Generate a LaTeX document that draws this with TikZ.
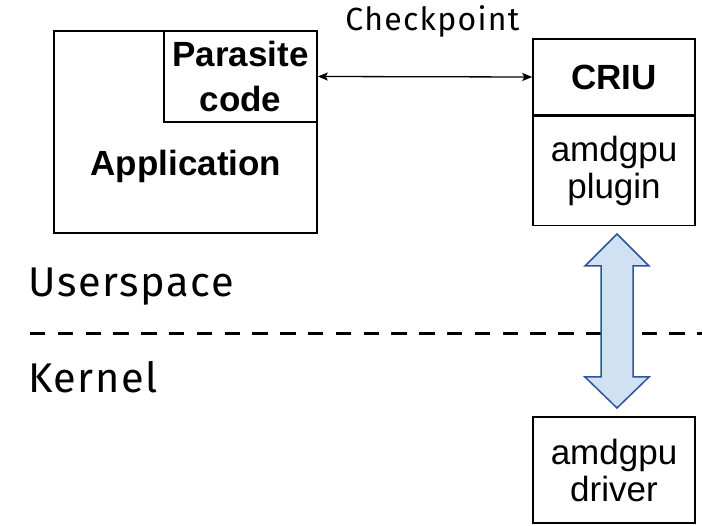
\documentclass[tikz,border=0pt]{standalone}
\usepackage{fontspec}
\setmainfont{Liberation Sans}
\newfontfamily\lblfont[LetterSpace=4]{Fira Sans}
\usetikzlibrary{arrows.meta}
\definecolor{arrfill}{HTML}{D0E1F3}
\definecolor{arrline}{HTML}{2F5597}
\begin{document}
\begin{tikzpicture}[x=1pt,y=-1pt,
  box/.style={draw=black, line width=1.5pt, inner sep=0pt, align=center,
    font=\fontsize{35}{37}\selectfont},
  boldbox/.style={box, font=\bfseries\fontsize{35}{45}\selectfont},
  lbl/.style={font=\lblfont\fontsize{41.5}{46}\selectfont, inner sep=0pt},
  smalllbl/.style={font=\lblfont\fontsize{32}{36}\selectfont, inner sep=0pt},
  bigarrow/.style={draw=arrline, fill=arrfill, line width=1.5pt, line join=miter},
  sep/.style={draw=black, line width=3pt, dash pattern=on 15.3pt off 12.5pt}]
\useasboundingbox (0,0) rectangle (702,526);

% separator line
\coordinate (sepL) at (30,334);
\coordinate (sepR) at (702,334);
\draw[sep] (sepL) -- (sepR);

% application
\node[box, minimum width=263pt, minimum height=202pt] (app) at (185.5,132) {};
\node[boldbox, minimum width=153pt, minimum height=91pt] (parasite) at (240.5,76.5) {Parasite\\code};
\node[font=\bfseries\fontsize{35}{37}\selectfont, anchor=base, inner sep=0pt] (applbl) at (186,176) {Application};

% CRIU
\node[boldbox, minimum width=162pt, minimum height=76pt] (criu) at (614,77) {CRIU};
\node[box, minimum width=162pt, minimum height=109pt, anchor=north] (plugin) at (criu.south) {amdgpu\\plugin};

% driver
\node[box, minimum width=162pt, minimum height=106pt] (driver) at (614,470) {amdgpu\\driver};

% checkpoint arrow
\draw[line width=1.3pt, {Stealth[length=10pt,width=8pt,inset=2pt]}-{Stealth[length=10pt,width=8pt,inset=2pt]}]
  (parasite.east) -- (criu.west);
\node[smalllbl, anchor=base] (ckpt) at (432.5,31) {Checkpoint};

% labels
\node[lbl, anchor=base west] (user) at (28,297) {Userspace};
\node[lbl, anchor=base west] (kern) at (28,393) {Kernel};

% double arrow
\coordinate (at) at (617,234);
\coordinate (ab) at (617,408);
\draw[bigarrow] (at) -- ++(32,32) -- ++(-16,0) -- (633,377) -- ++(16,0) -- (ab)
  -- (585,377) -- ++(16,0) -- (601,266) -- ++(-16,0) -- cycle;
\end{tikzpicture}
\end{document}
